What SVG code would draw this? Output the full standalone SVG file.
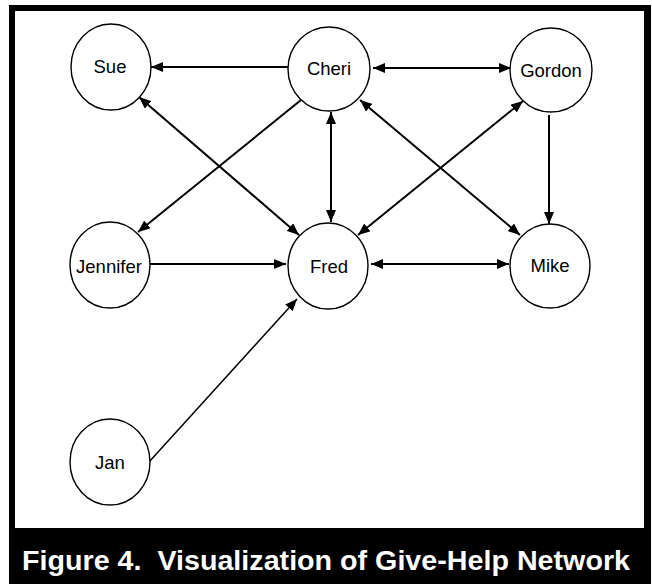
<svg xmlns="http://www.w3.org/2000/svg" width="652" height="584" viewBox="0 0 652 584">
<style>
.node ellipse{fill:#fff;stroke:#000;stroke-width:1.4}
.node text{font-family:"Liberation Sans",Arial,sans-serif;font-size:18.5px;fill:#000;text-anchor:middle}
.edge{stroke:#000;stroke-width:2;fill:none}
.thin{stroke-width:1.5}
.caption{font-family:"Liberation Sans",Arial,sans-serif;font-weight:bold;font-size:28px;fill:#fff}
</style>
<defs>
<marker id="ah" markerUnits="userSpaceOnUse" markerWidth="13" markerHeight="10" refX="12" refY="5" orient="auto-start-reverse" viewBox="0 0 13 10">
<path d="M0,0 L12,5 L0,10 z" fill="#000"/>
</marker>
</defs>
<rect x="9" y="5" width="642" height="579" fill="#000"/>
<rect x="15" y="11" width="629" height="517" fill="#fff"/>
<g id="connectors">
<line class="edge" x1="288" y1="67" x2="151" y2="67" marker-end="url(#ah)"/>
<line class="edge" x1="373" y1="68" x2="511" y2="68" marker-start="url(#ah)" marker-end="url(#ah)"/>
<line class="edge" x1="301" y1="100" x2="138" y2="232" marker-end="url(#ah)"/>
<line class="edge" x1="139" y1="97" x2="299" y2="235" marker-start="url(#ah)" marker-end="url(#ah)"/>
<line class="edge" x1="331" y1="112" x2="331" y2="222" marker-start="url(#ah)" marker-end="url(#ah)"/>
<line class="edge" x1="360" y1="100" x2="520" y2="235" marker-start="url(#ah)" marker-end="url(#ah)"/>
<line class="edge" x1="523" y1="101" x2="358" y2="235" marker-start="url(#ah)" marker-end="url(#ah)"/>
<line class="edge" x1="549" y1="115" x2="549" y2="224" marker-end="url(#ah)"/>
<line class="edge" x1="150" y1="264" x2="286" y2="264" marker-end="url(#ah)"/>
<line class="edge" x1="371" y1="264" x2="509" y2="264" marker-start="url(#ah)" marker-end="url(#ah)"/>
<line class="edge thin" x1="149" y1="462" x2="297" y2="299" marker-end="url(#ah)"/>
</g>
<g id="Sue" class="node"><ellipse cx="111" cy="67" rx="40" ry="43"/><text x="110" y="73">Sue</text></g>
<g id="Cheri" class="node"><ellipse cx="329" cy="69" rx="41" ry="42"/><text x="329" y="75">Cheri</text></g>
<g id="Gordon" class="node"><ellipse cx="551" cy="70" rx="41" ry="42"/><text x="551" y="77">Gordon</text></g>
<g id="Jennifer" class="node"><ellipse cx="110" cy="265" rx="40" ry="43"/><text x="109" y="273">Jennifer</text></g>
<g id="Fred" class="node"><ellipse cx="328" cy="266" rx="40" ry="43"/><text x="329" y="273">Fred</text></g>
<g id="Mike" class="node"><ellipse cx="550" cy="266" rx="40" ry="42"/><text x="550" y="272">Mike</text></g>
<g id="Jan" class="node"><ellipse cx="110" cy="462" rx="40" ry="43"/><text x="110" y="469">Jan</text></g>
<text class="caption" x="22" y="570" textLength="608" lengthAdjust="spacingAndGlyphs" xml:space="preserve">Figure 4.  Visualization of Give-Help Network</text>
</svg>
